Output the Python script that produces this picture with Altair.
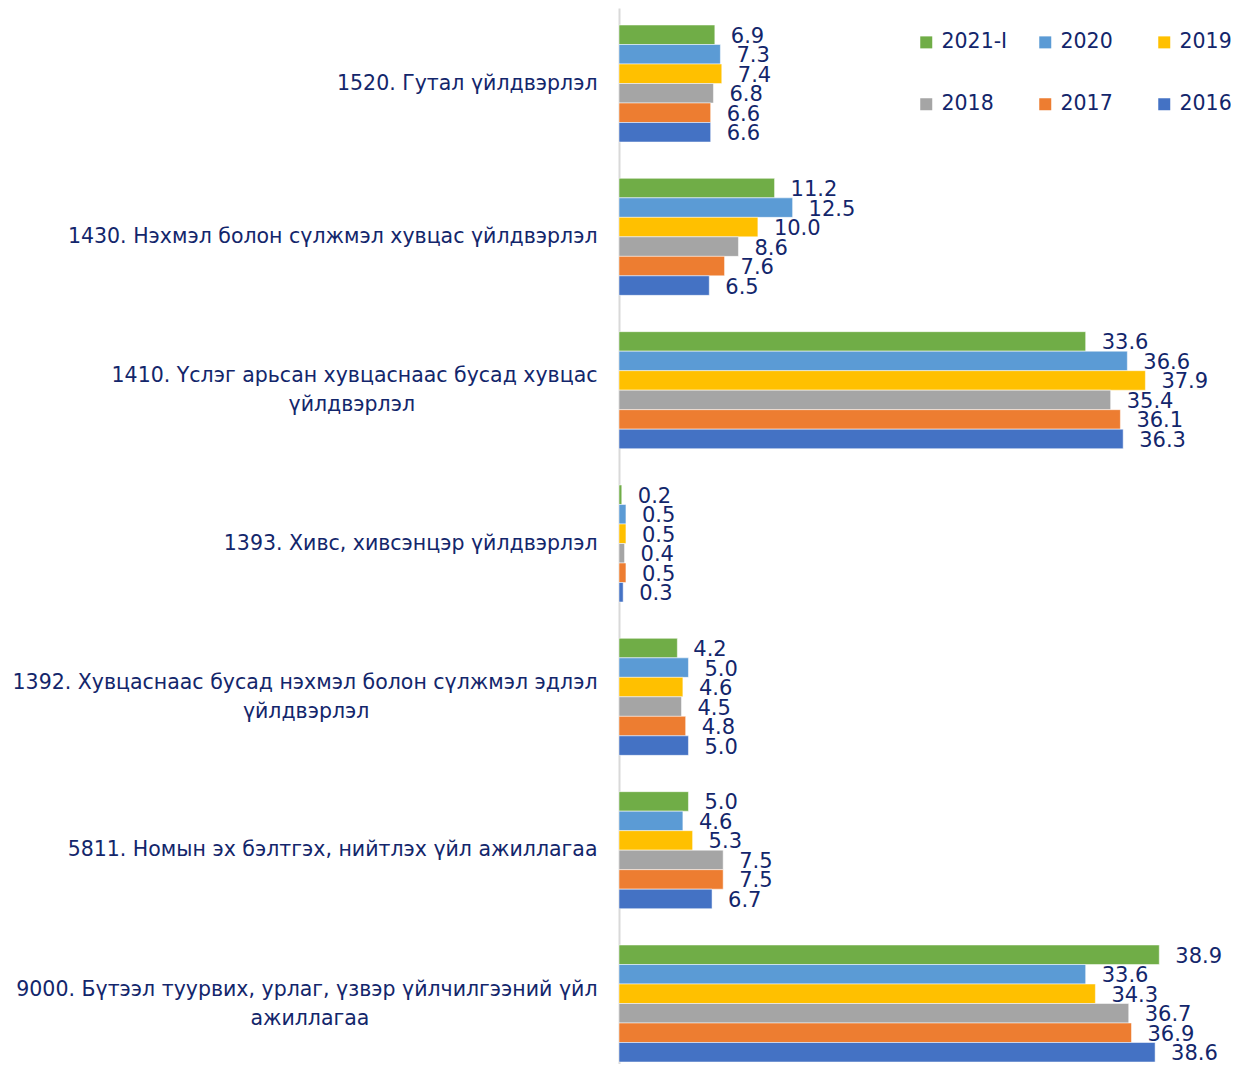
import altair as alt
import pandas as pd

NBSP = "\u00a0"
ZW = "\u200b"
categories = [
    "1520. Гутал үйлдвэрлэл",
    "1430. Нэхмэл болон сүлжмэл хувцас үйлдвэрлэл",
    "1410. Үслэг арьсан хувцаснаас бусад хувцас\nүйлдвэрлэл" + NBSP * 28 + ZW,
    "1393. Хивс, хивсэнцэр үйлдвэрлэл",
    "1392. Хувцаснаас бусад нэхмэл болон сүлжмэл эдлэл\nүйлдвэрлэл" + NBSP * 35 + ZW,
    "5811. Номын эх бэлтгэх, нийтлэх үйл ажиллагаа",
    "9000. Бүтээл туурвих, урлаг, үзвэр үйлчилгээний үйл\nажиллагаа" + NBSP * 35 + ZW,
]
series = ["2021-I", "2020", "2019", "2018", "2017", "2016"]
colors = ["#70AD47", "#5B9BD5", "#FFC000", "#A5A5A5", "#ED7D31", "#4472C4"]

v2021_I = [6.9, 11.2, 33.6, 0.2, 4.2, 5.0, 38.9]
v2020 = [7.3, 12.5, 36.6, 0.5, 5.0, 4.6, 33.6]
v2019 = [7.4, 10.0, 37.9, 0.5, 4.6, 5.3, 34.3]
v2018 = [6.8, 8.6, 35.4, 0.4, 4.5, 7.5, 36.7]
v2017 = [6.6, 7.6, 36.1, 0.5, 4.8, 7.5, 36.9]
v2016 = [6.6, 6.5, 36.3, 0.3, 5.0, 6.7, 38.6]
values = [v2021_I, v2020, v2019, v2018, v2017, v2016]

rows = []
for s, vals in zip(series, values):
    for c, v in zip(categories, vals):
        rows.append({"category": c, "series": s, "value": v})
df = pd.DataFrame(rows)

NAVY = "#13266B"
FONT = "DejaVu Sans"

y_enc = alt.Y(
    "category:N",
    sort=categories,
    scale=alt.Scale(paddingInner=0.237, paddingOuter=0.062, align=0.895),
    axis=alt.Axis(
        title=None,
        labelExpr="split(datum.label, '\\n')",
        labelFont=FONT,
        labelFontSize=20.5,
        labelColor=NAVY,
        labelLimit=700,
        labelPadding=22,
        labelLineHeight=29,
        labelOffset={
            "condition": {"test": "indexof(datum.value, '\\n') >= 0", "value": -14},
            "value": 0,
        },
        ticks=False,
        domainColor="#D9D9D9",
        domainWidth=2,
    ),
)
yoff = alt.YOffset("series:N", sort=series, scale=alt.Scale(paddingInner=0, paddingOuter=0))
x_enc = alt.X("value:Q", scale=alt.Scale(domain=[0, 43.2]), axis=None)

bars = alt.Chart(df).mark_bar(stroke="white", strokeWidth=0.5).encode(
    y=y_enc,
    yOffset=yoff,
    x=x_enc,
    color=alt.Color(
        "series:N",
        sort=series,
        scale=alt.Scale(domain=series, range=colors),
        legend=alt.Legend(
            title=None,
            orient="none",
            legendX=297,
            legendY=24,
            direction="horizontal",
            columns=3,
            gridAlign="all",
            columnPadding=27,
            rowPadding=41,
            symbolType="square",
            symbolSize=144,
            symbolStrokeWidth=0,
            labelFont=FONT,
            labelFontSize=20.5,
            labelColor=NAVY,
            labelOffset=5,
            padding=0,
        ),
    ),
)

labels = alt.Chart(df).mark_text(
    align="left", baseline="middle", dx=16, dy=2, font=FONT, fontSize=21, color=NAVY
).encode(
    y=alt.Y("category:N", sort=categories),
    yOffset=yoff,
    x=x_enc,
    text=alt.Text("value:Q", format=".1f"),
)

chart = (
    alt.layer(bars, labels)
    .properties(
        width=600,
        height=1056,
        autosize=alt.AutoSizeParams(type="none"),
        padding={"left": 611, "top": 0, "right": 12, "bottom": 0},
    )
    .configure_view(stroke=None)
)

chart.save("out.html", embed_options={"renderer": "svg", "actions": False})
